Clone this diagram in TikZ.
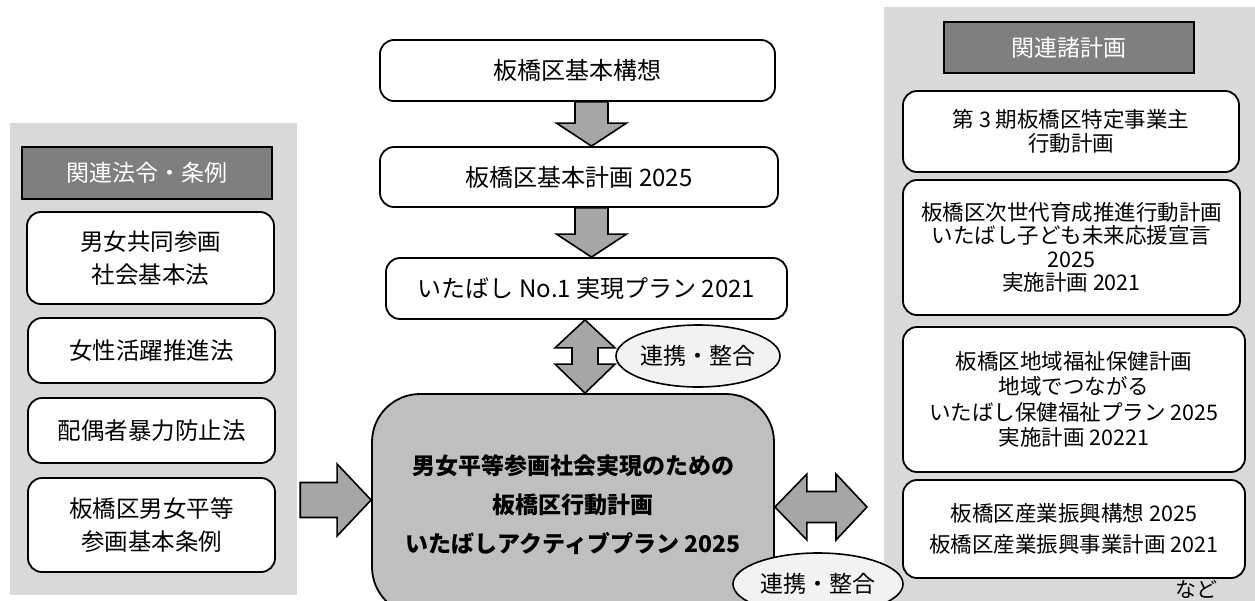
\documentclass[tikz,border=0pt]{standalone}
\usepackage{fontspec}
\setmainfont{Noto Sans CJK JP}
\usetikzlibrary{calc,shapes.geometric}
\definecolor{panelgray}{HTML}{D9D9D9}
\definecolor{hdrgray}{HTML}{7F7F7F}
\definecolor{arrgray}{HTML}{A6A6A6}
\definecolor{maingray}{HTML}{BFBFBF}
\definecolor{ellgray}{HTML}{F2F2F2}
\newcommand\downblock[3]{%
  \draw[arr] (#3-16.5,0 |- #1.south) -- (#3+16.5,0 |- #1.south)
    -- ($(#3+16.5,0 |- #2.north)+(0,-23)$) -- ($(#3+35,0 |- #2.north)+(0,-23)$)
    -- (#3,0 |- #2.north) -- ($(#3-35,0 |- #2.north)+(0,-23)$)
    -- ($(#3-16.5,0 |- #2.north)+(0,-23)$) -- cycle;}
\begin{document}
\begin{tikzpicture}[x=1pt,y=-1pt,
  every node/.style={inner sep=0pt, align=center},
  panel/.style={fill=panelgray},
  hdr/.style={draw=black, line width=1.8pt, fill=hdrgray, text=white, font=\fontsize{23}{28}\selectfont},
  rbox/.style={draw=black, line width=1.8pt, fill=white, rounded corners=14pt},
  lfont/.style={font=\fontsize{23.5}{32.5}\selectfont},
  cfont/.style={font=\fontsize{24}{30}\selectfont},
  arr/.style={draw=black, line width=1.6pt, fill=arrgray, line join=miter},
  ell/.style={draw=black, line width=1.6pt, fill=ellgray, ellipse, minimum width=#1, minimum height=62pt, font=\fontsize{23}{28}\selectfont},
  mainbox/.style={draw=black, line width=1.8pt, fill=maingray, rounded corners=48pt, font=\fontsize{23}{39}\selectfont\bfseries}
]
\useasboundingbox (0,0) rectangle (1255,600);
\clip (0,0) rectangle (1255,600);

% panels
\node[panel, minimum width=287pt, minimum height=472pt] (lpanel) at (153.5,359) {};
\node[panel, minimum width=371pt, minimum height=600pt] (rpanel) at (1069.5,307) {};

% left column
\node[hdr, minimum width=250pt, minimum height=52pt] (lhdr) at (147,173) {関連法令・条例};
\node[rbox, lfont, minimum width=247pt, minimum height=92pt] (l1) at (150.5,258) {男女共同参画\\社会基本法};
\node[rbox, lfont, minimum width=247pt, minimum height=65pt] (l2) at (151.5,350.5) {女性活躍推進法};
\node[rbox, lfont, minimum width=247pt, minimum height=65pt] (l3) at (151.5,430.5) {配偶者暴力防止法};
\node[rbox, lfont, minimum width=247pt, minimum height=94pt] (l4) at (151.5,525) {板橋区男女平等\\参画基本条例};

% centre column
\node[rbox, cfont, minimum width=395pt, minimum height=61pt] (a) at (577.5,70.5) {板橋区基本構想};
\node[rbox, cfont, minimum width=398pt, minimum height=60pt] (b) at (579,177) {板橋区基本計画 2025};
\node[rbox, cfont, minimum width=401pt, minimum height=61pt] (c) at (586.5,288.5) {いたばし No.1 実現プラン 2021};
\node[mainbox, minimum width=402pt, minimum height=221pt] (m) at (573,504.5) {男女平等参画社会実現のための\\板橋区行動計画\\いたばしアクティブプラン 2025};

% right column
\node[hdr, minimum width=250pt, minimum height=51pt] (rhdr) at (1069,47.5) {関連諸計画};
\node[rbox, font=\fontsize{21.5}{24}\selectfont, minimum width=336pt, minimum height=81pt] (r1) at (1071,131.5) {第 3 期板橋区特定事業主\\行動計画};
\node[rbox, font=\fontsize{21.5}{23.5}\selectfont, minimum width=337pt, minimum height=135pt] (r2) at (1071.5,247.5) {板橋区次世代育成推進行動計画\\いたばし子ども未来応援宣言\\2025\\実施計画 2021};
\node[rbox, font=\fontsize{21.5}{25.5}\selectfont, minimum width=342pt, minimum height=145pt] (r3) at (1074,399.5) {板橋区地域福祉保健計画\\地域でつながる\\いたばし保健福祉プラン 2025\\実施計画 20221};
\node[rbox, font=\fontsize{21.5}{31}\selectfont, minimum width=342pt, minimum height=98pt] (r4) at (1074,529) {板橋区産業振興構想 2025\\板橋区産業振興事業計画 2021};
\node[font=\fontsize{21}{24}\selectfont] (nado) at (1196,589) {など};

% block arrows
\downblock{a}{b}{591.5}
\downblock{b}{c}{591.5}

% vertical double arrow c <-> m
\coordinate (vt) at (585,0 |- c.south);
\coordinate (vb) at (585,0 |- m.north);
\draw[arr] (vt) -- ($(vt)+(30,28)$) -- ($(vt)+(13,28)$) -- ($(vb)+(13,-29)$) -- ($(vb)+(30,-29)$)
  -- (vb) -- ($(vb)+(-30,-29)$) -- ($(vb)+(-13,-29)$) -- ($(vt)+(-13,28)$) -- ($(vt)+(-30,28)$) -- cycle;

% right arrow from left panel to main box
\coordinate (lt) at (lpanel.east |- 0,500);
\coordinate (ltip) at (m.west |- lt);
\draw[arr] ($(lt)+(3,-17.5)$) -- ($(ltip)+(-34,-17.5)$) -- ($(ltip)+(-34,-36)$) -- (ltip)
  -- ($(ltip)+(-34,36)$) -- ($(ltip)+(-34,17.5)$) -- ($(lt)+(3,17.5)$) -- cycle;

% horizontal double arrow main <-> related plans
\coordinate (hl) at (m.east |- 0,507);
\coordinate (hr) at (867,507);
\draw[arr] (hl) -- ($(hl)+(32,-33)$) -- ($(hl)+(32,-15.5)$) -- ($(hr)+(-31,-15.5)$) -- ($(hr)+(-31,-33)$)
  -- (hr) -- ($(hr)+(-31,33)$) -- ($(hr)+(-31,15.5)$) -- ($(hl)+(32,15.5)$) -- ($(hl)+(32,33)$) -- cycle;

% ellipses
\node[ell=164pt] (e1) at (698,356) {連携・整合};
\node[ell=170pt] (e2) at (818,584) {連携・整合};
\end{tikzpicture}
\end{document}
